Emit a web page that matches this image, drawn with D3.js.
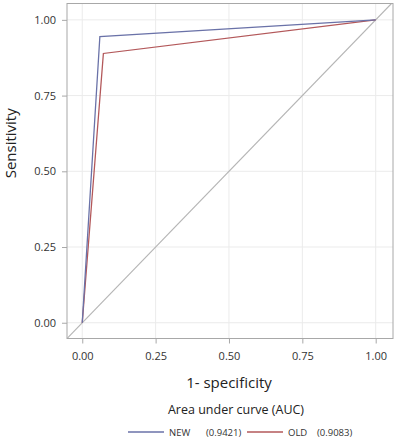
<!DOCTYPE html>
<html><head><meta charset="utf-8">
<script src="https://cdn.jsdelivr.net/npm/d3@7"></script>
<style>body{margin:0;background:#fff;}svg{display:block;font-family:"Open Sans",sans-serif;}</style>
</head><body><div id="chart"></div>
<script>
const ticks = [0, 0.25, 0.5, 0.75, 1];
const tickLabels = ["0.00", "0.25", "0.50", "0.75", "1.00"];
const seriesNames = ["NEW", "OLD"];
const seriesAUC = ["(0.9421)", "(0.9083)"];
const newX = [0, 0.06, 1];
const newY = [0, 0.945, 1];
const oldX = [0, 0.072, 1];
const oldY = [0, 0.889, 1];
const diagX = [-0.06, 1.07];
const diagY = [-0.06, 1.07];
const colors = ["#6a72a8", "#b3585a"];

const W = 398, H = 441;
const svg = d3.select("#chart").append("svg").attr("width", W).attr("height", H);
const L = 67, R = 393, T = 3.5, B = 338.5;
const x = d3.scaleLinear().domain([-0.052, 1.059]).range([L, R]);
const y = d3.scaleLinear().domain([-0.052, 1.054]).range([B, T]);

svg.append("clipPath").attr("id", "clip").append("rect")
  .attr("x", L).attr("y", T).attr("width", R - L).attr("height", B - T);

// grid
svg.append("g").selectAll("line").data(ticks).join("line")
  .attr("x1", d => x(d)).attr("x2", d => x(d)).attr("y1", T).attr("y2", B)
  .attr("stroke", "#ebebeb").attr("stroke-width", 1);
svg.append("g").selectAll("line").data(ticks).join("line")
  .attr("y1", d => y(d)).attr("y2", d => y(d)).attr("x1", L).attr("x2", R)
  .attr("stroke", "#ebebeb").attr("stroke-width", 1);

// axes
const xAxis = svg.append("g").attr("transform", `translate(0,${B})`)
  .call(d3.axisBottom(x).tickValues(ticks).tickFormat((d, i) => tickLabels[i]).tickSize(5).tickSizeOuter(0).tickPadding(9));
const yAxis = svg.append("g").attr("transform", `translate(${L},0)`)
  .call(d3.axisLeft(y).tickValues(ticks).tickFormat((d, i) => tickLabels[i]).tickSize(5).tickSizeOuter(0).tickPadding(6));
[xAxis, yAxis].forEach(g => {
  g.select(".domain").remove();
  g.selectAll(".tick line").attr("stroke", "#a8a8a8");
  g.selectAll("text").attr("font-size", 11).attr("fill", "#333").attr("font-family", "Open Sans, sans-serif");
});

const line = d3.line().x(d => x(d[0])).y(d => y(d[1]));
const plot = svg.append("g").attr("clip-path", "url(#clip)");
plot.append("path").attr("d", line(diagX.map((v, i) => [v, diagY[i]])))
  .attr("fill", "none").attr("stroke", "#b5b5b5").attr("stroke-width", 1.2);
plot.append("path").attr("d", line(oldX.map((v, i) => [v, oldY[i]])))
  .attr("fill", "none").attr("stroke", colors[1]).attr("stroke-width", 1.3);
plot.append("path").attr("d", line(newX.map((v, i) => [v, newY[i]])))
  .attr("fill", "none").attr("stroke", colors[0]).attr("stroke-width", 1.3);

// frame
svg.append("rect").attr("x", L).attr("y", T).attr("width", R - L).attr("height", B - T)
  .attr("fill", "none").attr("stroke", "#a8a8a8").attr("stroke-width", 1);

// axis titles
svg.append("text").attr("x", x(0.5)).attr("y", 388).attr("text-anchor", "middle")
  .attr("font-size", 15).attr("fill", "#222").text("1- specificity");
svg.append("text").attr("transform", `translate(16,${y(0.5) - 28}) rotate(-90)`).attr("text-anchor", "middle")
  .attr("font-size", 15).attr("fill", "#222").text("Sensitivity");

svg.append("text").attr("x", 236).attr("y", 414).attr("text-anchor", "middle")
  .attr("font-size", 12.5).attr("fill", "#222").text("Area under curve (AUC)");

// legend
const legX = [128, 247];
const lg = svg.append("g").selectAll("g").data(seriesNames).join("g")
  .attr("transform", (d, i) => `translate(${legX[i]},432)`);
lg.append("line").attr("x1", 0).attr("x2", 36).attr("y1", 0).attr("y2", 0)
  .attr("stroke", (d, i) => colors[i]).attr("stroke-width", 1.3);
lg.append("text").attr("x", 41).attr("y", 3.5).attr("font-size", 9.5).attr("fill", "#333").text(d => d);
lg.append("text").attr("x", (d, i) => i === 0 ? 78 : 70).attr("y", 3.5).attr("font-size", 9.5).attr("fill", "#333")
  .text((d, i) => seriesAUC[i]);
</script></body></html>
